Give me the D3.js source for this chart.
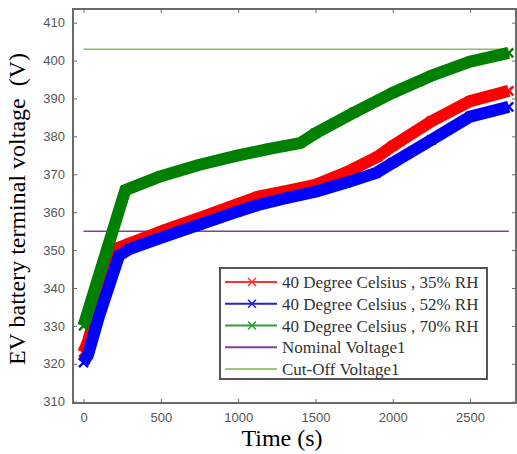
<!DOCTYPE html>
<html>
<head>
<meta charset="utf-8">
<script src="https://cdn.jsdelivr.net/npm/d3@7"></script>
<style>
  html, body { margin: 0; padding: 0; background: #fff; }
  svg { display: block; }
  .serif { font-family: "Liberation Serif", "Times New Roman", Times, "DejaVu Serif", serif; font-weight: normal; }
  .sans { font-family: "Liberation Sans", Arial, Helvetica, sans-serif; }
</style>
</head>
<body>
<svg id="chart" width="517" height="454"></svg>
<script>
// ---- data ----
const xTicks = [0, 500, 1000, 1500, 2000, 2500];
const yTicks = [310, 320, 330, 340, 350, 360, 370, 380, 390, 400, 410];

const redT = [0, 30, 100, 200, 300, 500, 750, 1000, 1129, 1300, 1500, 1700, 1900, 2000, 2250, 2500, 2750];
const redV = [323, 326, 336.5, 350.2, 351.8, 354.9, 358.5, 362.2, 364.1, 365.5, 367.2, 370.5, 374.6, 377.5, 384, 389.3, 392];

const blueT = [0, 30, 100, 230, 300, 500, 750, 1000, 1129, 1300, 1500, 1700, 1890, 2000, 2250, 2500, 2750];
const blueV = [320.3, 322.5, 332.5, 348.6, 350.3, 353.2, 356.7, 360.2, 361.9, 363.6, 365.4, 367.8, 370.3, 373, 379.1, 385.2, 387.8];

const greenT = [0, 100, 270, 500, 750, 1000, 1200, 1400, 1500, 1750, 2000, 2250, 2500, 2750];
const greenV = [330, 343.3, 365.8, 369.5, 372.5, 375, 376.7, 378.2, 380.8, 386.3, 391.5, 396, 399.7, 402];

const nominalT = [0, 2750];
const nominalV = [355, 355];
const cutoffT = [0, 2750];
const cutoffV = [403, 403];

const seriesNames = [
  "40 Degree Celsius , 35% RH",
  "40 Degree Celsius , 52% RH",
  "40 Degree Celsius , 70% RH",
  "Nominal Voltage1",
  "Cut-Off Voltage1"
];
const seriesColors = ["#ff0000", "#0000ff", "#008000", "#8040a0", "#8cc060"];
const legendColors = ["#ff3030", "#2020e0", "#30a030", "#8040a0", "#9cc878"];

// ---- layout ----
const svg = d3.select("#chart");
const L = 73, R = 516, T = 9, B = 403;
const x = d3.scaleLinear().domain([-68, 2797]).range([L, R]);
const y = d3.scaleLinear().domain([309.66, 413.6]).range([B, T]);

const axisColor = "#6a6a6a";
const tickTextColor = "#555";

function pts(ts, vs) { return ts.map((t, i) => [t, vs[i]]); }
const line = d3.line().x(d => x(d[0])).y(d => y(d[1]));

const bands = [
  {data: pts(redT, redV), color: seriesColors[0]},
  {data: pts(blueT, blueV), color: seriesColors[1]},
  {data: pts(greenT, greenV), color: seriesColors[2]}
];

const gData = svg.append("g");
gData.append("path").datum(pts(nominalT, nominalV)).attr("d", line)
  .attr("fill", "none").attr("stroke", seriesColors[3]).attr("stroke-width", 1.5);
gData.append("path").datum(pts(cutoffT, cutoffV)).attr("d", line)
  .attr("fill", "none").attr("stroke", seriesColors[4]).attr("stroke-width", 1.5);

const ms = 4.5;
bands.forEach(b => {
  gData.append("path").datum(b.data).attr("d", line)
    .attr("fill", "none").attr("stroke", b.color)
    .attr("stroke-width", 12).attr("stroke-linejoin", "round");
  gData.selectAll(null).data(b.data).enter().append("path")
    .attr("d", d => {
      const cx = x(d[0]), cy = y(d[1]);
      return `M${cx - ms},${cy - ms}L${cx + ms},${cy + ms}M${cx - ms},${cy + ms}L${cx + ms},${cy - ms}`;
    })
    .attr("stroke", b.color).attr("stroke-width", 2.5).attr("fill", "none");
});

// axes box with inward ticks (MATLAB style)
const gAx = svg.append("g");
const tl = 4;
const xb = d3.axisBottom(x).tickValues(xTicks).tickFormat(d3.format("d")).tickSizeInner(-tl).tickSizeOuter(0).tickPadding(10);
const xt = d3.axisTop(x).tickValues(xTicks).tickSizeInner(-tl).tickSizeOuter(0).tickFormat("");
const yl = d3.axisLeft(y).tickValues(yTicks).tickFormat(d3.format("d")).tickSizeInner(-tl).tickSizeOuter(0).tickPadding(8);
const yr = d3.axisRight(y).tickValues(yTicks).tickSizeInner(-tl).tickSizeOuter(0).tickFormat("");

gAx.append("g").attr("transform", `translate(0,${B})`).call(xb);
gAx.append("g").attr("transform", `translate(0,${T})`).call(xt);
gAx.append("g").attr("transform", `translate(${L},0)`).call(yl);
gAx.append("g").attr("transform", `translate(${R},0)`).call(yr);
gAx.selectAll(".domain").remove();
gAx.selectAll("g").attr("font-family", null).attr("font-size", null);
gAx.selectAll(".tick line").attr("stroke", axisColor).attr("stroke-width", 1);
gAx.selectAll(".tick text")
  .attr("fill", tickTextColor)
  .attr("class", "sans")
  .style("font-size", "13px");
gAx.append("rect").attr("x", L).attr("y", T).attr("width", R - L).attr("height", B - T)
  .attr("fill", "none").attr("stroke", axisColor).attr("stroke-width", 2);

// axis titles
svg.append("text")
  .attr("class", "serif")
  .attr("x", 282).attr("y", 446)
  .attr("text-anchor", "middle")
  .style("font-size", "24px")
  .attr("fill", "#000")
  .text("Time (s)");

svg.append("text")
  .attr("class", "serif")
  .attr("transform", "translate(25,209) rotate(-90)")
  .attr("text-anchor", "middle")
  .style("font-size", "24px")
  .style("white-space", "pre")
  .attr("fill", "#000")
  .text("EV battery terminal voltage  (V)");

// legend
const lg = svg.append("g");
const lx = 220, ly = 268, lw = 267, lh = 111;
lg.append("rect").attr("x", lx).attr("y", ly).attr("width", lw).attr("height", lh)
  .attr("fill", "#fff").attr("stroke", "#555").attr("stroke-width", 2);
const rowY = d3.scaleLinear().domain([0, 4]).range([ly + 14, ly + 101]);
seriesNames.forEach((name, i) => {
  const yy = rowY(i);
  lg.append("line").attr("x1", lx + 5).attr("x2", lx + 57).attr("y1", yy).attr("y2", yy)
    .attr("stroke", legendColors[i]).attr("stroke-width", 2);
  if (i < 3) {
    const cx = lx + 32, s = 4;
    lg.append("path")
      .attr("d", `M${cx - s},${yy - s}L${cx + s},${yy + s}M${cx - s},${yy + s}L${cx + s},${yy - s}`)
      .attr("stroke", legendColors[i]).attr("stroke-width", 1.5);
  }
  lg.append("text").attr("class", "serif").attr("x", lx + 62).attr("y", yy + 6)
    .style("font-size", "17px")
    .attr("fill", "#333")
    .text(name);
});
</script>
</body>
</html>
